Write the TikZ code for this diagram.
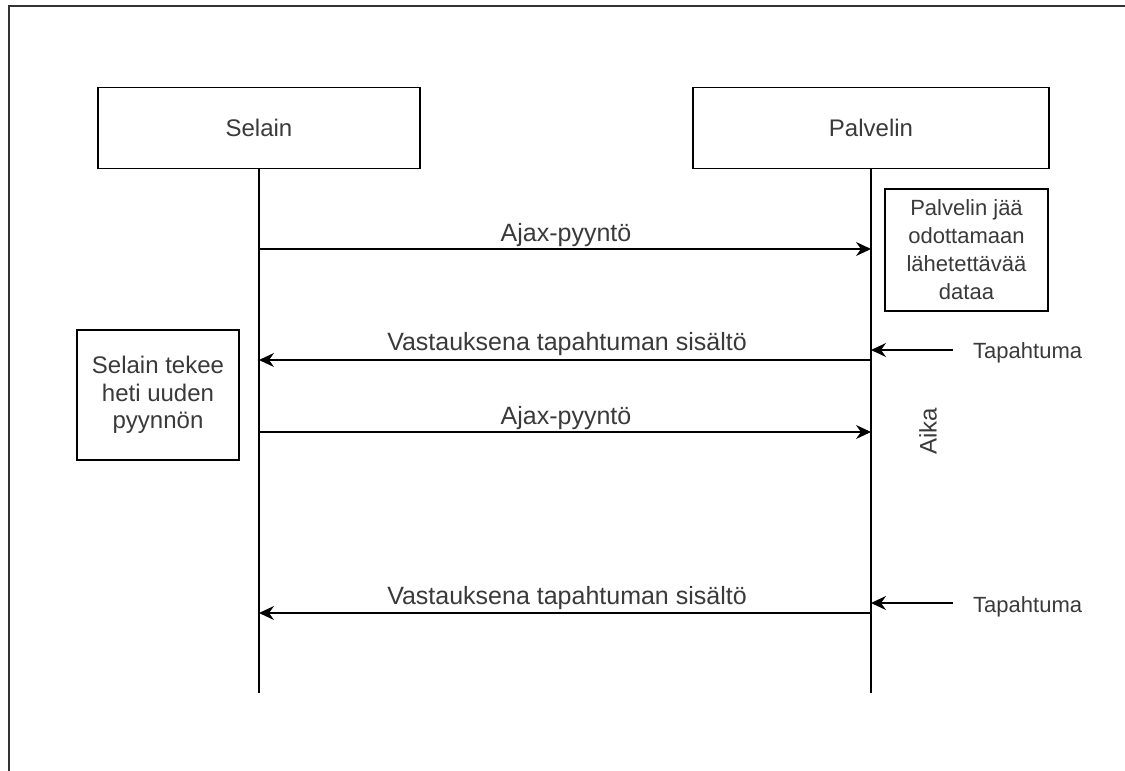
\documentclass[tikz,border=0pt]{standalone}
\usepackage{fontspec}
\setmainfont{Liberation Sans}
\usetikzlibrary{arrows.meta}
\definecolor{txt}{HTML}{3A3A3A}
\definecolor{frame}{HTML}{333333}
\begin{document}
\begin{tikzpicture}[x=1pt,y=-1pt,
  actor/.style={draw=black,line width=1.6pt,fill=white,text=txt,
    font=\fontsize{24}{28}\selectfont},
  note/.style={draw=black,line width=1.6pt,fill=white,text=txt,align=center,
    inner sep=0pt},
  lifeline/.style={draw=black,line width=1.4pt},
  msg/.style={draw=black,line width=1.4pt,
    -{Stealth[length=15pt,width=14pt,inset=5pt]}},
  msglabel/.style={anchor=base,text=txt,inner sep=0pt,
    font=\fontsize{25}{28}\selectfont},
  evlabel/.style={anchor=west,text=txt,inner sep=0pt,
    font=\fontsize{22}{26}\selectfont}]
\useasboundingbox (0,0) rectangle (1125,771);
\fill[white] (0,0) rectangle (1125,771);

% outer frame (open to the right and bottom)
\draw[frame,line width=2.4pt] (1130,6) -- (9,6) -- (9,780);

% participants
\node[actor,minimum width=322pt,minimum height=81pt] (selain) at (259,128) {Selain};
\node[actor,minimum width=356pt,minimum height=81pt] (palvelin) at (871,128) {Palvelin};

% lifelines
\coordinate (sEnd) at (259,693);
\coordinate (pEnd) at (871,693);
\draw[lifeline] (selain.south) -- (sEnd);
\draw[lifeline] (palvelin.south) -- (pEnd);

% notes
\node[note,minimum width=163pt,minimum height=122pt,font=\fontsize{22}{28}\selectfont]
  (wait) at (966.5,250) {Palvelin jää\\odottamaan\\lähetettävää\\dataa};
\node[note,minimum width=162pt,minimum height=130pt,font=\fontsize{24}{27.5}\selectfont]
  (renew) at (158,395) {Selain tekee\\heti uuden\\pyynnön};

% message anchor points
\coordinate (s1) at (259,249);  \coordinate (p1) at (871,249);
\coordinate (s2) at (259,360);  \coordinate (p2) at (871,360);
\coordinate (s3) at (259,432);  \coordinate (p3) at (871,432);
\coordinate (s4) at (259,613);  \coordinate (p4) at (871,613);

% messages
\draw[msg] (s1) -- (p1);
\node[msglabel] (l1) at (566,241) {Ajax-pyyntö};
\draw[msg] (p2) -- (s2);
\node[msglabel] (l2) at (567,350) {Vastauksena tapahtuman sisältö};
\draw[msg] (s3) -- (p3);
\node[msglabel] (l3) at (566,424) {Ajax-pyyntö};
\draw[msg] (p4) -- (s4);
\node[msglabel] (l4) at (567,604) {Vastauksena tapahtuman sisältö};

% incoming events
\coordinate (e1) at (953,350);  \coordinate (q1) at (871,350);
\coordinate (e2) at (953,603);  \coordinate (q2) at (871,603);
\draw[msg] (e1) -- (q1);
\node[evlabel] (t1) at (973,353) {Tapahtuma};
\draw[msg] (e2) -- (q2);
\node[evlabel] (t2) at (973,607) {Tapahtuma};

% time axis label
\node[text=txt,rotate=90,inner sep=0pt,font=\fontsize{24}{28}\selectfont] (aika) at (928,431) {Aika};
\end{tikzpicture}
\end{document}
